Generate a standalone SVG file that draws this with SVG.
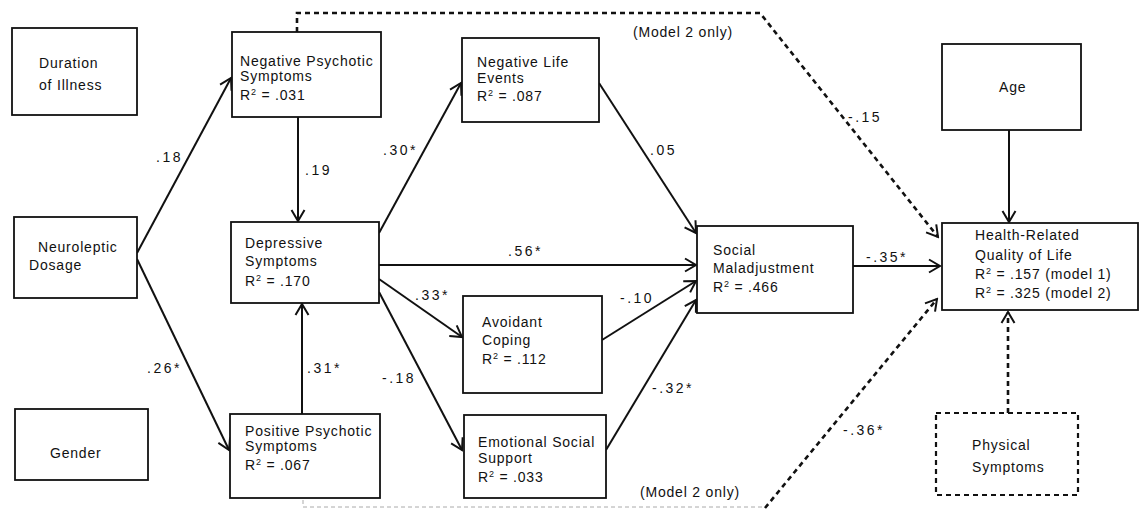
<svg xmlns="http://www.w3.org/2000/svg" width="1140" height="511" viewBox="0 0 1140 511">
<style>
.box{fill:#fff;stroke:#111;stroke-width:1.8}
.dbox{fill:#fff;stroke:#111;stroke-width:2.2;stroke-dasharray:5 4}
.t{font-family:"Liberation Sans",Arial,sans-serif;font-size:14px;fill:#111;letter-spacing:0.8px}
.lab{font-family:"Liberation Sans",Arial,sans-serif;font-size:14px;fill:#111;letter-spacing:2.5px}
.sup{font-size:9px}
.c{fill:none;stroke:#111;stroke-width:2}
.d{fill:none;stroke:#111;stroke-width:2.6;stroke-dasharray:5 4}
.f{fill:none;stroke:#aaa;stroke-width:1;stroke-dasharray:4 3}
</style>
<defs>
<marker id="ah" viewBox="-12 -8 14 16" refX="0" refY="0" markerWidth="14" markerHeight="16" markerUnits="userSpaceOnUse" orient="auto">
<path d="M-11,-6.5 L0,0 L-11,6.5" fill="none" stroke="#111" stroke-width="2"/>
</marker>
</defs>
<rect width="1140" height="511" fill="#fff"/>
<g id="connectors">
<line class="c" x1="137" y1="253" x2="231" y2="78" marker-end="url(#ah)"/>
<line class="c" x1="137" y1="259" x2="229" y2="450" marker-end="url(#ah)"/>
<line class="c" x1="298" y1="117" x2="298" y2="221" marker-end="url(#ah)"/>
<line class="c" x1="302" y1="414" x2="302" y2="304" marker-end="url(#ah)"/>
<line class="c" x1="379" y1="233" x2="461" y2="83" marker-end="url(#ah)"/>
<line class="c" x1="379" y1="265" x2="696" y2="265" marker-end="url(#ah)"/>
<line class="c" x1="379" y1="279" x2="462" y2="337" marker-end="url(#ah)"/>
<line class="c" x1="379" y1="292" x2="462" y2="450" marker-end="url(#ah)"/>
<line class="c" x1="599" y1="83" x2="696" y2="233" marker-end="url(#ah)"/>
<line class="c" x1="602" y1="340" x2="696" y2="281" marker-end="url(#ah)"/>
<line class="c" x1="606" y1="450" x2="696" y2="300" marker-end="url(#ah)"/>
<line class="c" x1="853" y1="266" x2="940" y2="266" marker-end="url(#ah)"/>
<line class="c" x1="1009" y1="130" x2="1009" y2="222" marker-end="url(#ah)"/>
<line class="d" x1="1008" y1="413" x2="1008" y2="312" marker-end="url(#ah)"/>
<polyline class="d" points="297,32 297,13 760,13 938,237" marker-end="url(#ah)"/>
<polyline class="f" points="303,500 303,507 765,507"/>
<line class="d" x1="765" y1="508" x2="937" y2="299" marker-end="url(#ah)"/>
<text class="lab" x="156" y="162">.18</text>
<text class="lab" x="305" y="175">.19</text>
<text class="lab" x="147" y="373">.26*</text>
<text class="lab" x="307" y="373">.31*</text>
<text class="lab" x="383" y="155">.30*</text>
<text class="lab" x="650" y="155">.05</text>
<text class="lab" x="508" y="256">.56*</text>
<text class="lab" x="415" y="300">.33*</text>
<text class="lab" x="620" y="303">-.10</text>
<text class="lab" x="382" y="383">-.18</text>
<text class="lab" x="652" y="393">-.32*</text>
<text class="lab" x="848" y="122">-.15</text>
<text class="lab" x="866" y="262">-.35*</text>
<text class="lab" x="843" y="435">-.36*</text>
<text class="t" x="633" y="37">(Model 2 only)</text>
<text class="t" x="640" y="497">(Model 2 only)</text>
</g>
<g id="duration">
<rect class="box" x="12" y="28" width="125" height="87"/>
<text class="t" x="39" y="68">Duration</text>
<text class="t" x="39" y="90">of Illness</text>
</g>
<g id="neuroleptic">
<rect class="box" x="14" y="217" width="123" height="81"/>
<text class="t" x="38" y="252">Neuroleptic</text>
<text class="t" x="29" y="270">Dosage</text>
</g>
<g id="gender">
<rect class="box" x="15" y="409" width="133" height="71"/>
<text class="t" x="50" y="458">Gender</text>
</g>
<g id="negpsych">
<rect class="box" x="232" y="32" width="149" height="85"/>
<text class="t" x="240" y="66">Negative Psychotic</text>
<text class="t" x="240" y="81">Symptoms</text>
<text class="t" x="240" y="100">R<tspan class="sup" dy="-5">2</tspan><tspan dy="5"> = .031</tspan></text>
</g>
<g id="depressive">
<rect class="box" x="231" y="222" width="148" height="81"/>
<text class="t" x="245" y="248">Depressive</text>
<text class="t" x="245" y="266">Symptoms</text>
<text class="t" x="245" y="286">R<tspan class="sup" dy="-5">2</tspan><tspan dy="5"> = .170</tspan></text>
</g>
<g id="pospsych">
<rect class="box" x="230" y="414" width="150" height="84"/>
<text class="t" x="245" y="436">Positive Psychotic</text>
<text class="t" x="245" y="451">Symptoms</text>
<text class="t" x="245" y="470">R<tspan class="sup" dy="-5">2</tspan><tspan dy="5"> = .067</tspan></text>
</g>
<g id="negevents">
<rect class="box" x="462" y="38" width="137" height="84"/>
<text class="t" x="477" y="67">Negative Life</text>
<text class="t" x="477" y="83">Events</text>
<text class="t" x="477" y="101">R<tspan class="sup" dy="-5">2</tspan><tspan dy="5"> = .087</tspan></text>
</g>
<g id="avoidant">
<rect class="box" x="463" y="296" width="139" height="97"/>
<text class="t" x="482" y="327">Avoidant</text>
<text class="t" x="482" y="345">Coping</text>
<text class="t" x="482" y="364">R<tspan class="sup" dy="-5">2</tspan><tspan dy="5"> = .112</tspan></text>
</g>
<g id="emotional">
<rect class="box" x="464" y="415" width="142" height="83"/>
<text class="t" x="478" y="447">Emotional Social</text>
<text class="t" x="478" y="463">Support</text>
<text class="t" x="478" y="482">R<tspan class="sup" dy="-5">2</tspan><tspan dy="5"> = .033</tspan></text>
</g>
<g id="social">
<rect class="box" x="697" y="226" width="156" height="87"/>
<text class="t" x="713" y="255">Social</text>
<text class="t" x="713" y="273">Maladjustment</text>
<text class="t" x="713" y="292">R<tspan class="sup" dy="-5">2</tspan><tspan dy="5"> = .466</tspan></text>
</g>
<g id="age">
<rect class="box" x="942" y="44" width="139" height="86"/>
<text class="t" x="999" y="92">Age</text>
</g>
<g id="hrqol">
<rect class="box" x="942" y="223" width="196" height="87"/>
<text class="t" x="975" y="240">Health-Related</text>
<text class="t" x="975" y="260">Quality of Life</text>
<text class="t" x="975" y="279">R<tspan class="sup" dy="-5">2</tspan><tspan dy="5"> = .157 (model 1)</tspan></text>
<text class="t" x="975" y="298">R<tspan class="sup" dy="-5">2</tspan><tspan dy="5"> = .325 (model 2)</tspan></text>
</g>
<g id="physical">
<rect class="dbox" x="936" y="413" width="142" height="82"/>
<text class="t" x="972" y="450">Physical</text>
<text class="t" x="972" y="472">Symptoms</text>
</g>
</svg>
